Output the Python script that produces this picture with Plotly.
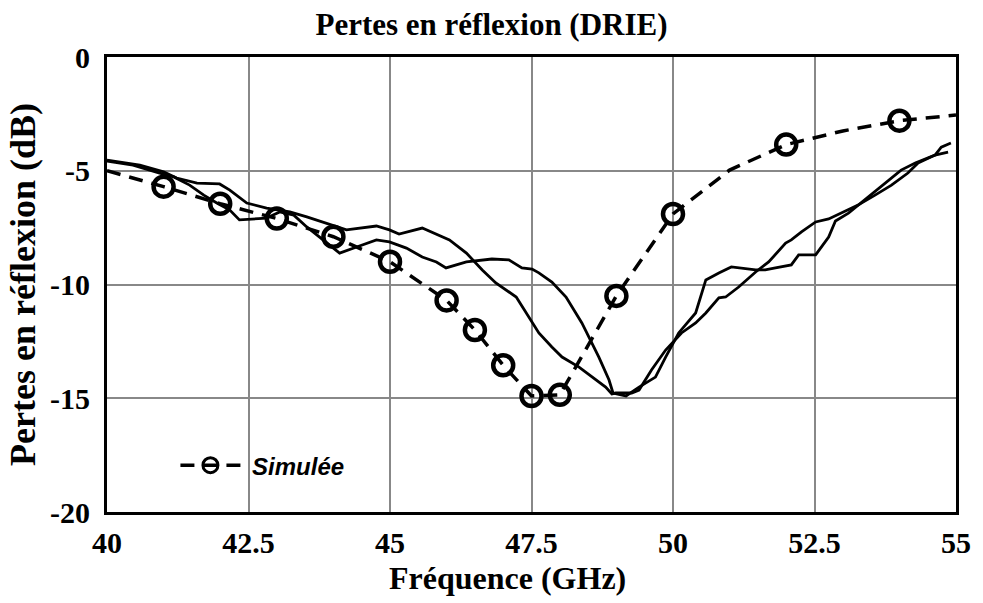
import plotly.graph_objects as go

# Simulated return loss (dashed curve) and its marker points
sim_freq = [40, 41, 42, 43, 44, 45, 46, 46.5, 47, 47.5, 48, 49, 50, 51, 52, 53, 54, 55]
sim_db = [-5.0, -5.7, -6.45, -7.1, -7.9, -9.0, -10.7, -12.0, -13.55, -14.9, -14.85,
          -10.5, -6.9, -4.97, -3.85, -3.25, -2.8, -2.55]
mark_freq = [41, 42, 43, 44, 45, 46, 46.5, 47, 47.5, 48, 49, 50, 52, 54]
mark_db = [-5.7, -6.45, -7.1, -7.9, -9.0, -10.7, -12.0, -13.55, -14.9, -14.85,
           -10.5, -6.9, -3.85, -2.8]

# Measured return loss, first sample
meas1_freq = [40.00, 40.58, 41.00, 41.23, 41.59, 41.99, 42.17, 42.47, 42.82, 43.23,
              43.53, 43.88, 44.23, 44.76, 44.99, 45.16, 45.57, 46.05, 46.35, 46.63,
              46.87, 47.23, 47.46, 47.63, 47.86, 48.04, 48.34, 48.57, 48.81, 48.92,
              48.99, 49.27, 49.40, 49.62, 49.87, 50.15, 50.40, 50.58, 50.81, 50.93,
              51.16, 51.46, 51.69, 51.99, 52.09, 52.27, 52.52, 52.75, 52.97, 53.27,
              53.57, 53.86, 54.15, 54.33, 54.63, 54.86]
meas1_db = [-4.53, -4.75, -5.05, -5.32, -5.54, -5.58, -5.85, -6.42, -6.64, -6.81,
            -7.03, -7.30, -7.60, -7.43, -7.60, -7.78, -7.52, -8.04, -8.62, -9.36,
            -9.93, -10.55, -11.43, -12.13, -12.75, -13.19, -13.63, -14.07, -14.51, -14.81,
            -14.77, -14.77, -14.64, -13.76, -12.88, -12.13, -11.69, -11.25, -10.59, -10.55,
            -10.11, -9.45, -9.01, -8.18, -8.04, -7.69, -7.25, -7.12, -6.86, -6.51,
            -6.07, -5.63, -5.10, -4.66, -4.31, -4.18]

# Measured return loss, second sample
meas2_freq = [40.00, 40.46, 40.93, 41.18, 41.46, 41.71, 41.94, 42.17, 42.34, 42.59,
              42.82, 43.05, 43.30, 43.53, 43.76, 44.11, 44.41, 44.76, 44.99, 45.29,
              45.57, 45.82, 45.99, 46.35, 46.80, 47.10, 47.33, 47.51, 47.63, 47.86,
              48.11, 48.39, 48.69, 48.87, 48.94, 49.17, 49.40, 49.69, 49.87, 50.10,
              50.40, 50.58, 50.81, 51.03, 51.46, 51.63, 51.81, 52.09, 52.22, 52.52,
              52.75, 52.87, 53.10, 53.45, 53.75, 54.03, 54.28, 54.63, 54.74, 54.91]
meas2_db = [-4.57, -4.75, -5.10, -5.27, -5.63, -6.07, -6.42, -6.73, -7.16, -7.12,
            -7.08, -6.81, -6.95, -7.47, -7.91, -8.62, -8.35, -8.04, -8.13, -8.40,
            -8.79, -9.01, -9.27, -9.01, -8.88, -8.92, -9.27, -9.32, -9.49, -9.89,
            -10.55, -11.69, -13.19, -14.20, -14.77, -14.90, -14.51, -14.07, -13.19, -12.13,
            -11.25, -9.80, -9.49, -9.23, -9.36, -9.36, -9.27, -9.14, -8.70, -8.70,
            -7.91, -7.21, -6.86, -6.15, -5.54, -4.97, -4.66, -4.31, -3.96, -3.78]

x_ticks = [40, 42.5, 45, 47.5, 50, 52.5, 55]
x_tick_text = ["40", "42.5", "45", "47.5", "50", "52.5", "55"]
y_ticks = [0, -5, -10, -15, -20]
y_tick_text = ["0", "-5", "-10", "-15", "-20"]

SERIF = "Liberation Serif, Times New Roman, serif"
DASH = "14px,9px"


def bold(labels):
    return ["<b>%s</b>" % t for t in labels]


fig = go.Figure()

fig.add_trace(go.Scatter(x=meas1_freq, y=meas1_db, mode="lines",
                         line=dict(color="black", width=2.8), showlegend=False))
fig.add_trace(go.Scatter(x=meas2_freq, y=meas2_db, mode="lines",
                         line=dict(color="black", width=2.8), showlegend=False))
fig.add_trace(go.Scatter(x=sim_freq, y=sim_db, mode="lines",
                         line=dict(color="black", width=3.5, dash=DASH), showlegend=False))
fig.add_trace(go.Scatter(x=mark_freq, y=mark_db, mode="markers",
                         marker=dict(symbol="circle-open", size=20, color="black",
                                     line=dict(width=4.5, color="black")),
                         showlegend=False))
# legend entry for the simulated curve
fig.add_trace(go.Scatter(x=[None], y=[None], mode="lines+markers",
                         name="&nbsp;<b><i>Simulée</i></b>",
                         line=dict(color="black", width=3.5, dash=DASH),
                         marker=dict(symbol="circle-open", size=15, color="black",
                                     line=dict(width=3, color="black"))))

fig.update_layout(
    width=983, height=603,
    margin=dict(l=107, r=25, t=57, b=91),
    paper_bgcolor="white", plot_bgcolor="white",
    title=dict(text="<b>Pertes en réflexion (DRIE)</b>", x=0.5, xref="container",
               xanchor="center", y=1 - 24 / 603, yref="container", yanchor="middle",
               font=dict(family=SERIF, size=31, color="black")),
    legend=dict(x=0.0806, y=0.102, xanchor="left", yanchor="middle",
                bgcolor="rgba(0,0,0,0)", itemwidth=60,
                font=dict(family="Liberation Sans, Arial, sans-serif", size=24, color="black")),
    showlegend=True,
    annotations=[dict(text="<b>Fréquence (GHz)</b>", xref="paper", yref="paper",
                      x=(508 - 107) / 851, y=(512 - 578) / 455,
                      xanchor="center", yanchor="middle", showarrow=False,
                      font=dict(family=SERIF, size=32, color="black"))],
)

fig.update_xaxes(range=[40, 55], tickvals=x_ticks, ticktext=bold(x_tick_text),
                 showgrid=True, gridcolor="#888888", gridwidth=1.5,
                 showline=True, linecolor="black", linewidth=3, mirror=True,
                 ticks="", ticklabelstandoff=2, zeroline=False,
                 tickfont=dict(family=SERIF, size=30, color="black"))
fig.update_yaxes(range=[-20, 0], tickvals=y_ticks, ticktext=bold(y_tick_text),
                 showgrid=True, gridcolor="#888888", gridwidth=1.5,
                 showline=True, linecolor="black", linewidth=3, mirror=True,
                 ticks="", ticklabelstandoff=8, zeroline=False,
                 tickfont=dict(family=SERIF, size=30, color="black"),
                 title=dict(text="<b>Pertes en réflexion (dB)</b>", standoff=4,
                            font=dict(family=SERIF, size=36, color="black")))

fig.write_html("out.html")
